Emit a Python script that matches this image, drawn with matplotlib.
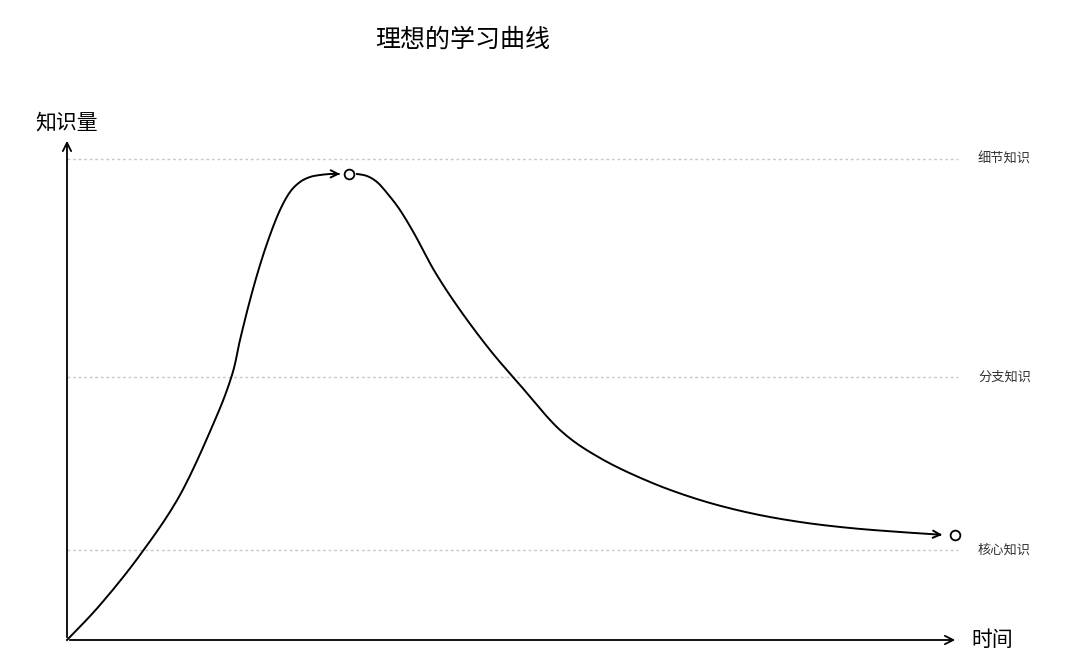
import matplotlib
matplotlib.use("Agg")
import matplotlib.pyplot as plt
import numpy as np

plt.rcParams['font.family'] = ['Noto Sans CJK SC', 'DejaVu Sans']

title = "理想的学习曲线"
y_label = "知识量"
x_label = "时间"
levels = ["核心知识", "分支知识", "细节知识"]
level_values = [90, 263, 481]

rise_x = [0, 33, 73, 113, 148, 165, 173, 183, 193, 203, 213, 223, 233, 243, 253, 263, 273]
rise_y = [0, 35, 85, 145, 220, 265, 300, 340, 375, 405, 430, 448, 458, 463, 465, 466, 466]
fall_x = [290, 300, 310, 320, 333, 348, 368, 393, 423, 453, 493, 533, 583, 633, 683, 733, 783, 833, 878]
fall_y = [466, 464, 458, 447, 430, 405, 368, 330, 290, 255, 210, 182, 158, 140, 127, 118, 112, 108, 105]


def smooth(xs, ys, n=12):
    # Catmull-Rom rendering of the read points (curve drawing only)
    p = np.column_stack([xs, ys]).astype(float)
    p = np.vstack([p[0], p, p[-1]])
    out = []
    for i in range(1, len(p) - 2):
        p0, p1, p2, p3 = p[i - 1], p[i], p[i + 1], p[i + 2]
        for t in np.linspace(0, 1, n, endpoint=False):
            out.append(0.5 * ((2 * p1) + (-p0 + p2) * t + (2 * p0 - 5 * p1 + 4 * p2 - p3) * t ** 2
                              + (-p0 + 3 * p1 - 3 * p2 + p3) * t ** 3))
    out.append(p[-2])
    out = np.array(out)
    return out[:, 0], out[:, 1]


fig = plt.figure(figsize=(10.8, 6.71), dpi=100)
ax = fig.add_axes([0, 0, 1, 1])
ax.set_xlim(-67, 1013)
ax.set_ylim(-31, 640)
ax.axis('off')

for lv, name in zip(level_values, levels):
    ax.plot([0, 891], [lv, lv], ls=(0, (2, 2)), color='#c8c8c8', lw=1)
    ax.text(911, lv, name, fontsize=9.5, va='center', ha='left', color='#333333')

ax.annotate('', xy=(891, 0), xytext=(0, 0),
            arrowprops=dict(arrowstyle='->', color='black', lw=1.3, mutation_scale=15))
ax.annotate('', xy=(0, 502), xytext=(0, 0),
            arrowprops=dict(arrowstyle='->', color='black', lw=1.3, mutation_scale=15))

sx, sy = smooth(rise_x, rise_y)
ax.plot(sx[:-3], sy[:-3], color='black', lw=1.4)
ax.annotate('', xy=(sx[-1], sy[-1]), xytext=(sx[-4], sy[-4]),
            arrowprops=dict(arrowstyle='->', color='black', lw=1.4, mutation_scale=13))
ax.plot([282], [466], 'o', ms=7, mfc='white', mec='black', mew=1.3)

fx, fy = smooth(fall_x, fall_y)
ax.plot(fx[:-3], fy[:-3], color='black', lw=1.4)
ax.annotate('', xy=(fx[-1], fy[-1]), xytext=(fx[-4], fy[-4]),
            arrowprops=dict(arrowstyle='->', color='black', lw=1.4, mutation_scale=13))
ax.plot([888], [105], 'o', ms=7, mfc='white', mec='black', mew=1.3)

ax.text(396, 600, title, fontsize=18, ha='center', va='center')
ax.text(0, 518, y_label, fontsize=15, ha='center', va='center')
ax.text(925, 0, x_label, fontsize=15, ha='center', va='center')

fig.savefig("out.png", dpi=100, facecolor='white')
